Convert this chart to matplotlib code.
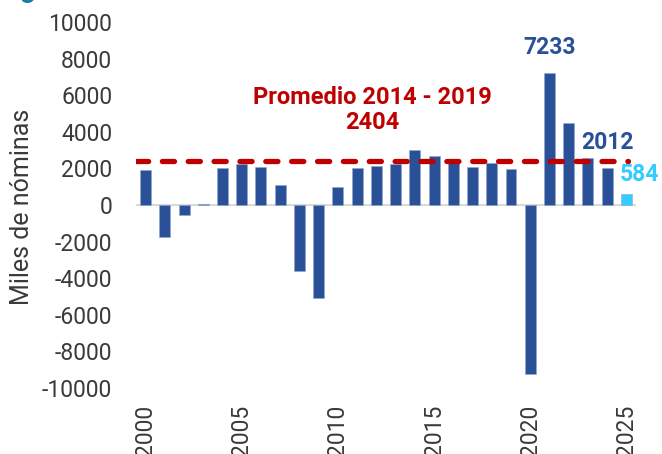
import matplotlib
matplotlib.use("Agg")
import matplotlib.pyplot as plt

# Creacion neta anual de nominas (miles)
years = list(range(2000, 2026))
values = [1900, -1760, -540, 80, 2010, 2250, 2070, 1120, -3580, -5070,
          975, 2010, 2160, 2250, 3000, 2700, 2350, 2100, 2280, 1990,
          -9260, 7233, 4510, 2580, 2012, 584]
avg_value = 2404
avg_label = "Promedio 2014 - 2019\n2404"
tick_years = [2000, 2005, 2010, 2015, 2020, 2025]

BLUE = "#2a5098"
CYAN = "#33ccff"
RED = "#c00000"
GREY_TXT = "#3a3a3a"

plt.rcParams["font.family"] = ["Roboto", "DejaVu Sans"]
plt.rcParams["axes.unicode_minus"] = False

fig = plt.figure(figsize=(6.62, 4.54), dpi=100)
ax = fig.add_axes([0.2054, 0.1454, 0.7553, 0.806])

idx = list(range(len(years)))
colors = [BLUE] * (len(years) - 1) + [CYAN]
ax.bar(idx, values, width=0.57, color=colors, edgecolor="#8fa6cf", linewidth=0.4, zorder=2)
ax.axhline(0, color="#d9d9d9", linewidth=1.5, zorder=1)

# linea de promedio
ax.hlines(avg_value, -0.5, 25.1, colors=RED, linewidth=3.8, linestyles=(0, (2.3, 2.6)),
          capstyle="round", zorder=3)
ax.text(11.8, 3900, avg_label, color=RED, fontsize=17, fontweight="bold",
        ha="center", va="bottom", linespacing=1.1)

# etiquetas de datos
ax.text(idx[21], 8000, "7233", color=BLUE, fontsize=16.5, fontweight="bold", ha="center", va="bottom")
ax.text(idx[24], 2800, "2012", color=BLUE, fontsize=16.5, fontweight="bold", ha="center", va="bottom")
ax.text(idx[25] + 0.7, 1050, "584", color=CYAN, fontsize=16.5, fontweight="bold", ha="center", va="bottom")

ax.set_xlim(-0.5, 25.5)
ax.set_ylim(-10000, 10000)
ax.set_yticks(range(-10000, 10001, 2000))
ax.set_xticks([years.index(y) for y in tick_years])
ax.set_xticklabels([str(y) for y in tick_years], rotation=90, va="top")
ax.tick_params(axis="both", length=0, labelsize=16.5, colors=GREY_TXT)
ax.tick_params(axis="y", pad=17)
ax.tick_params(axis="x", pad=12)
for s in ax.spines.values():
    s.set_visible(False)

fig.text(22 / 662, 1 - 207 / 454, "Miles de nóminas", rotation=90, ha="center", va="center",
         fontsize=18, color=GREY_TXT)

# resto del titulo cortado arriba
fig.text(20 / 662, 1 + 3 / 454, "g", color="#1a7fa3", fontsize=20, fontweight="bold",
         ha="left", va="baseline")

fig.savefig("out.png", dpi=100)
